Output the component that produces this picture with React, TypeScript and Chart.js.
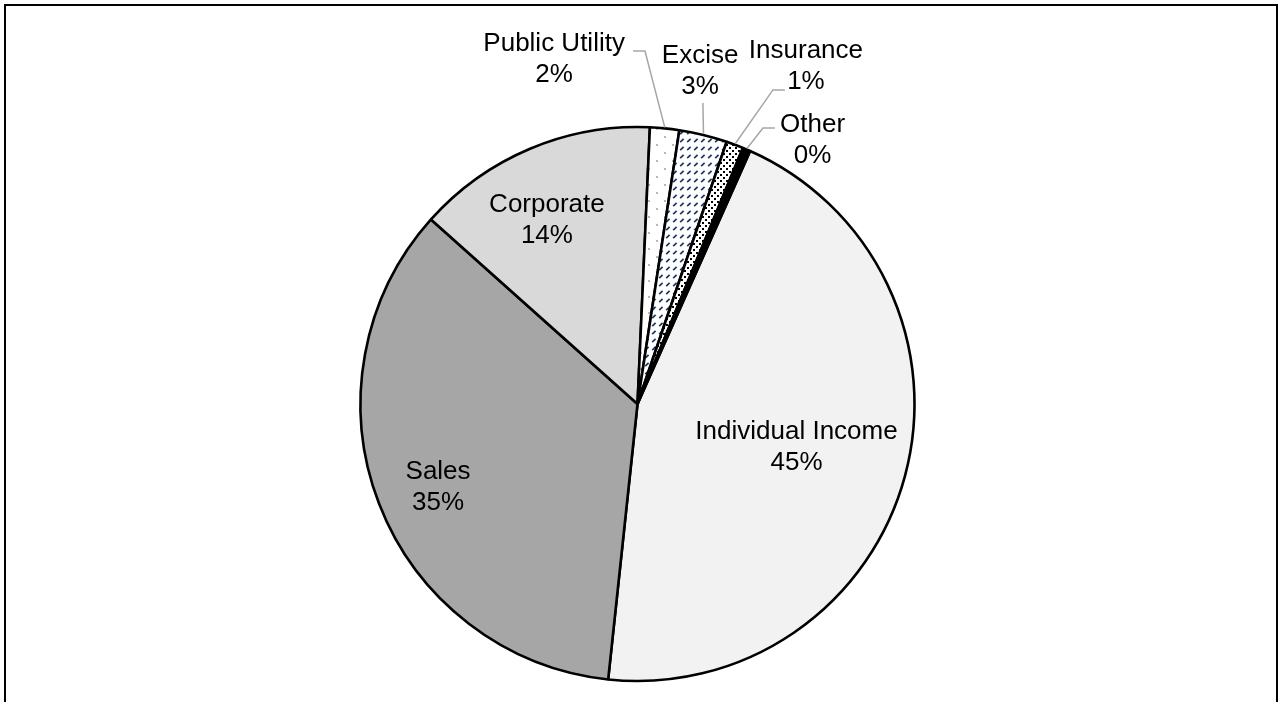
import React, { useEffect, useRef } from "react";
import { Chart, registerables } from "chart.js";

Chart.register(...registerables);

const categories = ["Individual Income", "Sales", "Corporate", "Public Utility", "Excise", "Insurance", "Other"];
const shares = [45.0, 34.9, 14.1, 1.7, 2.8, 1.0, 0.45];
// label centre offsets from pie centre, in units of radius
const labelDX = [0.574, -0.72, -0.327, -0.301, 0.226, 0.608, 0.632];
const labelDY = [0.155, 0.301, -0.662, -1.244, -1.2, -1.218, -0.953];
// leader line path points (elbow, end) in radius units; empty for inside labels
const leaders: number[][][] = [
  [],
  [],
  [],
  [[0.027, -1.274], [-0.016, -1.274]],
  [[0.236, -1.087]],
  [[0.489, -1.134], [0.532, -1.134]],
  [[0.453, -0.996], [0.496, -0.996]],
];

function makePattern(kind: string): CanvasPattern | string {
  const c = document.createElement("canvas");
  const ctx = c.getContext("2d")!;
  if (kind === "dots-sparse") {
    c.width = 16; c.height = 16;
    ctx.fillStyle = "#ffffff"; ctx.fillRect(0, 0, 16, 16);
    ctx.fillStyle = "#b8b8b8";
    ctx.fillRect(0, 0, 2, 2);
    ctx.fillRect(8, 8, 2, 2);
  } else if (kind === "dash-diag") {
    c.width = 7; c.height = 8;
    ctx.fillStyle = "#ffffff"; ctx.fillRect(0, 0, 7, 8);
    ctx.strokeStyle = "#1f3864"; ctx.lineWidth = 1.7;
    ctx.beginPath(); ctx.moveTo(1.2, 6.2); ctx.lineTo(4.6, 2.8); ctx.stroke();
  } else if (kind === "dots-dense") {
    c.width = 6; c.height = 6;
    ctx.fillStyle = "#ffffff"; ctx.fillRect(0, 0, 6, 6);
    ctx.fillStyle = "#000000";
    ctx.fillRect(0, 0, 2, 2);
    ctx.fillRect(3, 3, 2, 2);
  } else {
    return kind;
  }
  return ctx.createPattern(c, "repeat")!;
}

const labelPlugin = {
  id: "pieLabels",
  afterDatasetsDraw(chart: any) {
    const meta = chart.getDatasetMeta(0);
    const ctx = chart.ctx as CanvasRenderingContext2D;
    const data = chart.data.datasets[0].data as number[];
    const total = data.reduce((a, b) => a + b, 0);
    ctx.save();
    meta.data.forEach((arc: any, i: number) => {
      const { x, y, outerRadius, startAngle, endAngle } = arc.getProps(["x", "y", "outerRadius", "startAngle", "endAngle"], true);
      const r = outerRadius;
      const pts = leaders[i];
      if (pts.length) {
        const mid = (startAngle + endAngle) / 2;
        ctx.strokeStyle = "#a6a6a6";
        ctx.lineWidth = 1.5;
        ctx.beginPath();
        ctx.moveTo(x + Math.cos(mid) * (r + 1), y + Math.sin(mid) * (r + 1));
        pts.forEach((p) => ctx.lineTo(x + p[0] * r, y + p[1] * r));
        ctx.stroke();
      }
      const cx = x + labelDX[i] * r;
      const cy = y + labelDY[i] * r;
      ctx.fillStyle = "#000000";
      ctx.font = '26px "Liberation Sans", Arial, sans-serif';
      ctx.textAlign = "center";
      ctx.textBaseline = "middle";
      ctx.fillText(categories[i], cx, cy - 15.5);
      ctx.fillText(Math.round((data[i] / total) * 100) + "%", cx, cy + 15.5);
    });
    ctx.restore();
  },
};

export default function App() {
  const ref = useRef<HTMLCanvasElement>(null);
  useEffect(() => {
    const canvas = ref.current!;
    const colors = [
      "#f2f2f2",
      "#a6a6a6",
      "#d9d9d9",
      makePattern("dots-sparse"),
      makePattern("dash-diag"),
      makePattern("dots-dense"),
      "#000000",
    ];
    const chart = new Chart(canvas, {
      type: "pie",
      data: {
        labels: categories,
        datasets: [
          {
            data: shares,
            backgroundColor: colors as any,
            borderColor: "#000000",
            borderWidth: 2.6,
            radius: 277,
          } as any,
        ],
      },
      options: {
        animation: false,
        responsive: false,
        devicePixelRatio: 1,
        rotation: 24,
        layout: { padding: { top: 106, bottom: 0, left: 0, right: 7 } },
        plugins: { legend: { display: false }, tooltip: { enabled: false } },
      } as any,
      plugins: [labelPlugin],
    });
    return () => chart.destroy();
  }, []);
  return (
    <div style={{ position: "fixed", left: 0, top: 0, width: 1282, height: 702, overflow: "hidden", background: "#fff" }}>
      <canvas ref={ref} width={1282} height={702} style={{ position: "absolute", left: 0, top: 0 }} />
      <div
        style={{
          position: "absolute",
          left: 4,
          top: 4,
          width: 1274,
          height: 900,
          boxSizing: "border-box",
          border: "2.5px solid #000",
          pointerEvents: "none",
        }}
      />
    </div>
  );
}
